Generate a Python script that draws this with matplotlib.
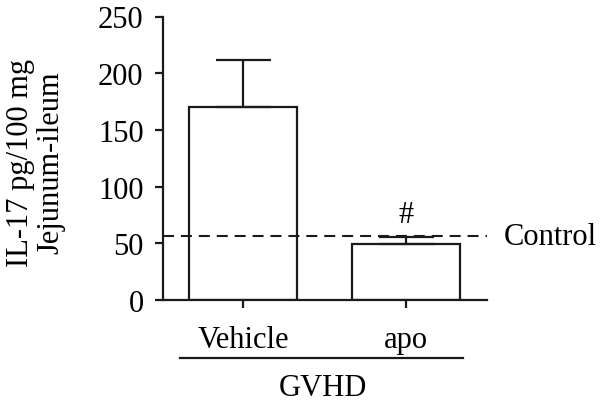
import matplotlib.pyplot as plt

plt.rcParams["font.family"] = ["Liberation Serif", "DejaVu Serif"]
plt.rcParams["lines.scale_dashes"] = False

groups = ["Vehicle", "apo"]
means = [170, 49.5]
sem_up = [42, 6]
control = 56
yticks = [0, 50, 100, 150, 200, 250]

fs = 22

fig = plt.figure(figsize=(6, 4.06), dpi=100)
ax = fig.add_axes([163 / 600, 105 / 406, 324 / 600, 283.5 / 406])

x = [0, 1]
ax.bar(x, means, width=0.664, color="white", edgecolor="#1a1a1a", linewidth=1.6, zorder=2)
ax.errorbar(x, means, yerr=[[0, 0], sem_up], fmt="none", ecolor="#1a1a1a",
            elinewidth=1.6, capsize=19.8, capthick=1.6, zorder=3)

ax.axhline(control, color="#1a1a1a", linewidth=1.5, dashes=(7.9, 5), zorder=4)
ax.text(1.605, control, "Control", fontsize=fs, va="center", ha="left")
ax.text(1.0, means[1] + sem_up[1] + 7, "#", fontsize=fs, ha="center", va="bottom")

ax.set_xlim(-0.492, 1.5)
ax.set_ylim(0, 250)
ax.set_yticks(yticks)
ax.set_xticks(x)
ax.set_xticklabels(groups)
ax.tick_params(axis="both", labelsize=fs, width=1.6, length=6, color="#1a1a1a")
ax.tick_params(axis="y", pad=8)
ax.tick_params(axis="x", pad=12)
for side in ["top", "right"]:
    ax.spines[side].set_visible(False)
for side in ["left", "bottom"]:
    ax.spines[side].set_linewidth(1.6)
    ax.spines[side].set_color("#1a1a1a")

fig.text(36 / 600, 1 - 163 / 406, "IL-17 pg/100 mg\nJejunum-ileum", fontsize=fs,
         rotation=90, ha="center", va="center", multialignment="center", linespacing=1.05)

# GVHD bracket under the group labels
ax.plot([-0.387, 1.353], [-51, -51], color="#1a1a1a", linewidth=1.6, clip_on=False)
ax.text(0.493, -64, "GVHD", fontsize=fs, ha="center", va="top")

fig.savefig("out.png", dpi=100)
